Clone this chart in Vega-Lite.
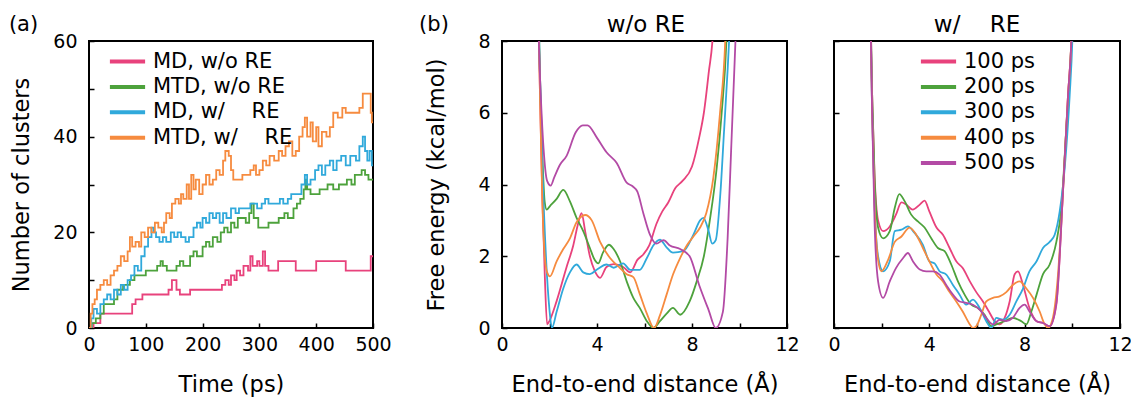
{
  "$schema": "https://vega.github.io/schema/vega-lite/v6.json",
  "background": "white",
  "padding": {"left": 7, "top": 12, "right": 0, "bottom": 0},
  "spacing": 25,
  "datasets": {
    "clusters": [
      {"t":0,"n":0,"s":"MD, w/o RE"},{"t":8,"n":1,"s":"MD, w/o RE"},{"t":20,"n":3,"s":"MD, w/o RE"},{"t":76,"n":5,"s":"MD, w/o RE"},{"t":82,"n":6,"s":"MD, w/o RE"},{"t":94,"n":7,"s":"MD, w/o RE"},{"t":140,"n":8,"s":"MD, w/o RE"},{"t":146,"n":10,"s":"MD, w/o RE"},{"t":154,"n":8,"s":"MD, w/o RE"},{"t":160,"n":7,"s":"MD, w/o RE"},{"t":178,"n":8,"s":"MD, w/o RE"},{"t":234,"n":9,"s":"MD, w/o RE"},{"t":240,"n":10,"s":"MD, w/o RE"},{"t":246,"n":9,"s":"MD, w/o RE"},{"t":250,"n":11,"s":"MD, w/o RE"},{"t":256,"n":10,"s":"MD, w/o RE"},{"t":260,"n":12,"s":"MD, w/o RE"},{"t":266,"n":11,"s":"MD, w/o RE"},{"t":272,"n":13,"s":"MD, w/o RE"},{"t":280,"n":12,"s":"MD, w/o RE"},{"t":284,"n":15,"s":"MD, w/o RE"},{"t":288,"n":13,"s":"MD, w/o RE"},{"t":296,"n":14,"s":"MD, w/o RE"},{"t":300,"n":13,"s":"MD, w/o RE"},{"t":306,"n":16,"s":"MD, w/o RE"},{"t":310,"n":13,"s":"MD, w/o RE"},{"t":316,"n":12,"s":"MD, w/o RE"},{"t":333,"n":14,"s":"MD, w/o RE"},{"t":364,"n":12,"s":"MD, w/o RE"},{"t":400,"n":14,"s":"MD, w/o RE"},{"t":452,"n":12,"s":"MD, w/o RE"},{"t":496,"n":15,"s":"MD, w/o RE"},{"t":500,"n":15,"s":"MD, w/o RE"},
      {"t":0,"n":0,"s":"MTD, w/o RE"},{"t":5,"n":1,"s":"MTD, w/o RE"},{"t":12,"n":2,"s":"MTD, w/o RE"},{"t":20,"n":3,"s":"MTD, w/o RE"},{"t":26,"n":5,"s":"MTD, w/o RE"},{"t":44,"n":6,"s":"MTD, w/o RE"},{"t":50,"n":8,"s":"MTD, w/o RE"},{"t":60,"n":9,"s":"MTD, w/o RE"},{"t":72,"n":10,"s":"MTD, w/o RE"},{"t":80,"n":11,"s":"MTD, w/o RE"},{"t":100,"n":12,"s":"MTD, w/o RE"},{"t":120,"n":13,"s":"MTD, w/o RE"},{"t":126,"n":14,"s":"MTD, w/o RE"},{"t":130,"n":13,"s":"MTD, w/o RE"},{"t":137,"n":12,"s":"MTD, w/o RE"},{"t":154,"n":13,"s":"MTD, w/o RE"},{"t":160,"n":14,"s":"MTD, w/o RE"},{"t":166,"n":13,"s":"MTD, w/o RE"},{"t":178,"n":15,"s":"MTD, w/o RE"},{"t":184,"n":16,"s":"MTD, w/o RE"},{"t":190,"n":15,"s":"MTD, w/o RE"},{"t":200,"n":17,"s":"MTD, w/o RE"},{"t":206,"n":18,"s":"MTD, w/o RE"},{"t":212,"n":17,"s":"MTD, w/o RE"},{"t":218,"n":19,"s":"MTD, w/o RE"},{"t":226,"n":18,"s":"MTD, w/o RE"},{"t":232,"n":20,"s":"MTD, w/o RE"},{"t":238,"n":21,"s":"MTD, w/o RE"},{"t":244,"n":20,"s":"MTD, w/o RE"},{"t":250,"n":22,"s":"MTD, w/o RE"},{"t":256,"n":21,"s":"MTD, w/o RE"},{"t":262,"n":23,"s":"MTD, w/o RE"},{"t":276,"n":22,"s":"MTD, w/o RE"},{"t":282,"n":24,"s":"MTD, w/o RE"},{"t":286,"n":26,"s":"MTD, w/o RE"},{"t":290,"n":23,"s":"MTD, w/o RE"},{"t":298,"n":21,"s":"MTD, w/o RE"},{"t":316,"n":22,"s":"MTD, w/o RE"},{"t":334,"n":23,"s":"MTD, w/o RE"},{"t":344,"n":24,"s":"MTD, w/o RE"},{"t":350,"n":23,"s":"MTD, w/o RE"},{"t":360,"n":25,"s":"MTD, w/o RE"},{"t":366,"n":26,"s":"MTD, w/o RE"},{"t":372,"n":27,"s":"MTD, w/o RE"},{"t":378,"n":29,"s":"MTD, w/o RE"},{"t":381,"n":31,"s":"MTD, w/o RE"},{"t":384,"n":29,"s":"MTD, w/o RE"},{"t":390,"n":28,"s":"MTD, w/o RE"},{"t":406,"n":29,"s":"MTD, w/o RE"},{"t":420,"n":30,"s":"MTD, w/o RE"},{"t":430,"n":29,"s":"MTD, w/o RE"},{"t":440,"n":30,"s":"MTD, w/o RE"},{"t":454,"n":31,"s":"MTD, w/o RE"},{"t":462,"n":30,"s":"MTD, w/o RE"},{"t":468,"n":32,"s":"MTD, w/o RE"},{"t":480,"n":33,"s":"MTD, w/o RE"},{"t":486,"n":32,"s":"MTD, w/o RE"},{"t":492,"n":31,"s":"MTD, w/o RE"},{"t":500,"n":31,"s":"MTD, w/o RE"},
      {"t":0,"n":0,"s":"MD, w/\u00a0\u00a0\u00a0\u00a0RE"},{"t":4,"n":2,"s":"MD, w/\u00a0\u00a0\u00a0\u00a0RE"},{"t":8,"n":4,"s":"MD, w/\u00a0\u00a0\u00a0\u00a0RE"},{"t":14,"n":3,"s":"MD, w/\u00a0\u00a0\u00a0\u00a0RE"},{"t":20,"n":5,"s":"MD, w/\u00a0\u00a0\u00a0\u00a0RE"},{"t":26,"n":6,"s":"MD, w/\u00a0\u00a0\u00a0\u00a0RE"},{"t":32,"n":7,"s":"MD, w/\u00a0\u00a0\u00a0\u00a0RE"},{"t":38,"n":6,"s":"MD, w/\u00a0\u00a0\u00a0\u00a0RE"},{"t":44,"n":8,"s":"MD, w/\u00a0\u00a0\u00a0\u00a0RE"},{"t":50,"n":7,"s":"MD, w/\u00a0\u00a0\u00a0\u00a0RE"},{"t":56,"n":9,"s":"MD, w/\u00a0\u00a0\u00a0\u00a0RE"},{"t":62,"n":8,"s":"MD, w/\u00a0\u00a0\u00a0\u00a0RE"},{"t":68,"n":10,"s":"MD, w/\u00a0\u00a0\u00a0\u00a0RE"},{"t":74,"n":11,"s":"MD, w/\u00a0\u00a0\u00a0\u00a0RE"},{"t":80,"n":13,"s":"MD, w/\u00a0\u00a0\u00a0\u00a0RE"},{"t":86,"n":12,"s":"MD, w/\u00a0\u00a0\u00a0\u00a0RE"},{"t":92,"n":15,"s":"MD, w/\u00a0\u00a0\u00a0\u00a0RE"},{"t":98,"n":17,"s":"MD, w/\u00a0\u00a0\u00a0\u00a0RE"},{"t":104,"n":19,"s":"MD, w/\u00a0\u00a0\u00a0\u00a0RE"},{"t":110,"n":21,"s":"MD, w/\u00a0\u00a0\u00a0\u00a0RE"},{"t":114,"n":20,"s":"MD, w/\u00a0\u00a0\u00a0\u00a0RE"},{"t":118,"n":19,"s":"MD, w/\u00a0\u00a0\u00a0\u00a0RE"},{"t":124,"n":18,"s":"MD, w/\u00a0\u00a0\u00a0\u00a0RE"},{"t":130,"n":19,"s":"MD, w/\u00a0\u00a0\u00a0\u00a0RE"},{"t":136,"n":18,"s":"MD, w/\u00a0\u00a0\u00a0\u00a0RE"},{"t":144,"n":20,"s":"MD, w/\u00a0\u00a0\u00a0\u00a0RE"},{"t":150,"n":19,"s":"MD, w/\u00a0\u00a0\u00a0\u00a0RE"},{"t":156,"n":20,"s":"MD, w/\u00a0\u00a0\u00a0\u00a0RE"},{"t":162,"n":19,"s":"MD, w/\u00a0\u00a0\u00a0\u00a0RE"},{"t":170,"n":18,"s":"MD, w/\u00a0\u00a0\u00a0\u00a0RE"},{"t":176,"n":19,"s":"MD, w/\u00a0\u00a0\u00a0\u00a0RE"},{"t":184,"n":21,"s":"MD, w/\u00a0\u00a0\u00a0\u00a0RE"},{"t":190,"n":22,"s":"MD, w/\u00a0\u00a0\u00a0\u00a0RE"},{"t":196,"n":21,"s":"MD, w/\u00a0\u00a0\u00a0\u00a0RE"},{"t":200,"n":23,"s":"MD, w/\u00a0\u00a0\u00a0\u00a0RE"},{"t":206,"n":22,"s":"MD, w/\u00a0\u00a0\u00a0\u00a0RE"},{"t":212,"n":24,"s":"MD, w/\u00a0\u00a0\u00a0\u00a0RE"},{"t":218,"n":23,"s":"MD, w/\u00a0\u00a0\u00a0\u00a0RE"},{"t":224,"n":24,"s":"MD, w/\u00a0\u00a0\u00a0\u00a0RE"},{"t":230,"n":22,"s":"MD, w/\u00a0\u00a0\u00a0\u00a0RE"},{"t":236,"n":24,"s":"MD, w/\u00a0\u00a0\u00a0\u00a0RE"},{"t":242,"n":23,"s":"MD, w/\u00a0\u00a0\u00a0\u00a0RE"},{"t":250,"n":25,"s":"MD, w/\u00a0\u00a0\u00a0\u00a0RE"},{"t":258,"n":24,"s":"MD, w/\u00a0\u00a0\u00a0\u00a0RE"},{"t":264,"n":25,"s":"MD, w/\u00a0\u00a0\u00a0\u00a0RE"},{"t":284,"n":26,"s":"MD, w/\u00a0\u00a0\u00a0\u00a0RE"},{"t":296,"n":25,"s":"MD, w/\u00a0\u00a0\u00a0\u00a0RE"},{"t":304,"n":26,"s":"MD, w/\u00a0\u00a0\u00a0\u00a0RE"},{"t":310,"n":27,"s":"MD, w/\u00a0\u00a0\u00a0\u00a0RE"},{"t":316,"n":26,"s":"MD, w/\u00a0\u00a0\u00a0\u00a0RE"},{"t":336,"n":27,"s":"MD, w/\u00a0\u00a0\u00a0\u00a0RE"},{"t":342,"n":26,"s":"MD, w/\u00a0\u00a0\u00a0\u00a0RE"},{"t":350,"n":27,"s":"MD, w/\u00a0\u00a0\u00a0\u00a0RE"},{"t":356,"n":28,"s":"MD, w/\u00a0\u00a0\u00a0\u00a0RE"},{"t":374,"n":30,"s":"MD, w/\u00a0\u00a0\u00a0\u00a0RE"},{"t":380,"n":32,"s":"MD, w/\u00a0\u00a0\u00a0\u00a0RE"},{"t":384,"n":30,"s":"MD, w/\u00a0\u00a0\u00a0\u00a0RE"},{"t":390,"n":31,"s":"MD, w/\u00a0\u00a0\u00a0\u00a0RE"},{"t":398,"n":33,"s":"MD, w/\u00a0\u00a0\u00a0\u00a0RE"},{"t":404,"n":34,"s":"MD, w/\u00a0\u00a0\u00a0\u00a0RE"},{"t":410,"n":32,"s":"MD, w/\u00a0\u00a0\u00a0\u00a0RE"},{"t":416,"n":34,"s":"MD, w/\u00a0\u00a0\u00a0\u00a0RE"},{"t":424,"n":35,"s":"MD, w/\u00a0\u00a0\u00a0\u00a0RE"},{"t":430,"n":33,"s":"MD, w/\u00a0\u00a0\u00a0\u00a0RE"},{"t":436,"n":35,"s":"MD, w/\u00a0\u00a0\u00a0\u00a0RE"},{"t":444,"n":36,"s":"MD, w/\u00a0\u00a0\u00a0\u00a0RE"},{"t":452,"n":34,"s":"MD, w/\u00a0\u00a0\u00a0\u00a0RE"},{"t":460,"n":36,"s":"MD, w/\u00a0\u00a0\u00a0\u00a0RE"},{"t":470,"n":35,"s":"MD, w/\u00a0\u00a0\u00a0\u00a0RE"},{"t":476,"n":38,"s":"MD, w/\u00a0\u00a0\u00a0\u00a0RE"},{"t":482,"n":40,"s":"MD, w/\u00a0\u00a0\u00a0\u00a0RE"},{"t":486,"n":37,"s":"MD, w/\u00a0\u00a0\u00a0\u00a0RE"},{"t":490,"n":35,"s":"MD, w/\u00a0\u00a0\u00a0\u00a0RE"},{"t":494,"n":37,"s":"MD, w/\u00a0\u00a0\u00a0\u00a0RE"},{"t":498,"n":34,"s":"MD, w/\u00a0\u00a0\u00a0\u00a0RE"},{"t":500,"n":34,"s":"MD, w/\u00a0\u00a0\u00a0\u00a0RE"},
      {"t":0,"n":0,"s":"MTD, w/\u00a0\u00a0\u00a0\u00a0RE"},{"t":3,"n":3,"s":"MTD, w/\u00a0\u00a0\u00a0\u00a0RE"},{"t":6,"n":5,"s":"MTD, w/\u00a0\u00a0\u00a0\u00a0RE"},{"t":10,"n":6,"s":"MTD, w/\u00a0\u00a0\u00a0\u00a0RE"},{"t":14,"n":8,"s":"MTD, w/\u00a0\u00a0\u00a0\u00a0RE"},{"t":20,"n":9,"s":"MTD, w/\u00a0\u00a0\u00a0\u00a0RE"},{"t":26,"n":10,"s":"MTD, w/\u00a0\u00a0\u00a0\u00a0RE"},{"t":32,"n":9,"s":"MTD, w/\u00a0\u00a0\u00a0\u00a0RE"},{"t":38,"n":11,"s":"MTD, w/\u00a0\u00a0\u00a0\u00a0RE"},{"t":44,"n":12,"s":"MTD, w/\u00a0\u00a0\u00a0\u00a0RE"},{"t":50,"n":13,"s":"MTD, w/\u00a0\u00a0\u00a0\u00a0RE"},{"t":56,"n":15,"s":"MTD, w/\u00a0\u00a0\u00a0\u00a0RE"},{"t":62,"n":14,"s":"MTD, w/\u00a0\u00a0\u00a0\u00a0RE"},{"t":68,"n":16,"s":"MTD, w/\u00a0\u00a0\u00a0\u00a0RE"},{"t":72,"n":19,"s":"MTD, w/\u00a0\u00a0\u00a0\u00a0RE"},{"t":76,"n":17,"s":"MTD, w/\u00a0\u00a0\u00a0\u00a0RE"},{"t":82,"n":18,"s":"MTD, w/\u00a0\u00a0\u00a0\u00a0RE"},{"t":88,"n":17,"s":"MTD, w/\u00a0\u00a0\u00a0\u00a0RE"},{"t":92,"n":20,"s":"MTD, w/\u00a0\u00a0\u00a0\u00a0RE"},{"t":98,"n":19,"s":"MTD, w/\u00a0\u00a0\u00a0\u00a0RE"},{"t":104,"n":21,"s":"MTD, w/\u00a0\u00a0\u00a0\u00a0RE"},{"t":110,"n":20,"s":"MTD, w/\u00a0\u00a0\u00a0\u00a0RE"},{"t":116,"n":22,"s":"MTD, w/\u00a0\u00a0\u00a0\u00a0RE"},{"t":122,"n":21,"s":"MTD, w/\u00a0\u00a0\u00a0\u00a0RE"},{"t":128,"n":20,"s":"MTD, w/\u00a0\u00a0\u00a0\u00a0RE"},{"t":132,"n":22,"s":"MTD, w/\u00a0\u00a0\u00a0\u00a0RE"},{"t":136,"n":24,"s":"MTD, w/\u00a0\u00a0\u00a0\u00a0RE"},{"t":142,"n":23,"s":"MTD, w/\u00a0\u00a0\u00a0\u00a0RE"},{"t":146,"n":26,"s":"MTD, w/\u00a0\u00a0\u00a0\u00a0RE"},{"t":152,"n":27,"s":"MTD, w/\u00a0\u00a0\u00a0\u00a0RE"},{"t":158,"n":26,"s":"MTD, w/\u00a0\u00a0\u00a0\u00a0RE"},{"t":162,"n":28,"s":"MTD, w/\u00a0\u00a0\u00a0\u00a0RE"},{"t":166,"n":27,"s":"MTD, w/\u00a0\u00a0\u00a0\u00a0RE"},{"t":172,"n":30,"s":"MTD, w/\u00a0\u00a0\u00a0\u00a0RE"},{"t":176,"n":27,"s":"MTD, w/\u00a0\u00a0\u00a0\u00a0RE"},{"t":180,"n":32,"s":"MTD, w/\u00a0\u00a0\u00a0\u00a0RE"},{"t":184,"n":29,"s":"MTD, w/\u00a0\u00a0\u00a0\u00a0RE"},{"t":188,"n":31,"s":"MTD, w/\u00a0\u00a0\u00a0\u00a0RE"},{"t":194,"n":28,"s":"MTD, w/\u00a0\u00a0\u00a0\u00a0RE"},{"t":200,"n":30,"s":"MTD, w/\u00a0\u00a0\u00a0\u00a0RE"},{"t":206,"n":32,"s":"MTD, w/\u00a0\u00a0\u00a0\u00a0RE"},{"t":212,"n":30,"s":"MTD, w/\u00a0\u00a0\u00a0\u00a0RE"},{"t":218,"n":31,"s":"MTD, w/\u00a0\u00a0\u00a0\u00a0RE"},{"t":224,"n":33,"s":"MTD, w/\u00a0\u00a0\u00a0\u00a0RE"},{"t":230,"n":32,"s":"MTD, w/\u00a0\u00a0\u00a0\u00a0RE"},{"t":236,"n":35,"s":"MTD, w/\u00a0\u00a0\u00a0\u00a0RE"},{"t":240,"n":37,"s":"MTD, w/\u00a0\u00a0\u00a0\u00a0RE"},{"t":246,"n":36,"s":"MTD, w/\u00a0\u00a0\u00a0\u00a0RE"},{"t":250,"n":33,"s":"MTD, w/\u00a0\u00a0\u00a0\u00a0RE"},{"t":254,"n":31,"s":"MTD, w/\u00a0\u00a0\u00a0\u00a0RE"},{"t":270,"n":32,"s":"MTD, w/\u00a0\u00a0\u00a0\u00a0RE"},{"t":284,"n":33,"s":"MTD, w/\u00a0\u00a0\u00a0\u00a0RE"},{"t":290,"n":34,"s":"MTD, w/\u00a0\u00a0\u00a0\u00a0RE"},{"t":294,"n":32,"s":"MTD, w/\u00a0\u00a0\u00a0\u00a0RE"},{"t":300,"n":33,"s":"MTD, w/\u00a0\u00a0\u00a0\u00a0RE"},{"t":306,"n":35,"s":"MTD, w/\u00a0\u00a0\u00a0\u00a0RE"},{"t":312,"n":34,"s":"MTD, w/\u00a0\u00a0\u00a0\u00a0RE"},{"t":318,"n":36,"s":"MTD, w/\u00a0\u00a0\u00a0\u00a0RE"},{"t":326,"n":35,"s":"MTD, w/\u00a0\u00a0\u00a0\u00a0RE"},{"t":334,"n":37,"s":"MTD, w/\u00a0\u00a0\u00a0\u00a0RE"},{"t":340,"n":36,"s":"MTD, w/\u00a0\u00a0\u00a0\u00a0RE"},{"t":346,"n":38,"s":"MTD, w/\u00a0\u00a0\u00a0\u00a0RE"},{"t":352,"n":39,"s":"MTD, w/\u00a0\u00a0\u00a0\u00a0RE"},{"t":358,"n":36,"s":"MTD, w/\u00a0\u00a0\u00a0\u00a0RE"},{"t":364,"n":37,"s":"MTD, w/\u00a0\u00a0\u00a0\u00a0RE"},{"t":370,"n":40,"s":"MTD, w/\u00a0\u00a0\u00a0\u00a0RE"},{"t":376,"n":42,"s":"MTD, w/\u00a0\u00a0\u00a0\u00a0RE"},{"t":380,"n":44,"s":"MTD, w/\u00a0\u00a0\u00a0\u00a0RE"},{"t":384,"n":40,"s":"MTD, w/\u00a0\u00a0\u00a0\u00a0RE"},{"t":390,"n":43,"s":"MTD, w/\u00a0\u00a0\u00a0\u00a0RE"},{"t":394,"n":39,"s":"MTD, w/\u00a0\u00a0\u00a0\u00a0RE"},{"t":400,"n":42,"s":"MTD, w/\u00a0\u00a0\u00a0\u00a0RE"},{"t":404,"n":38,"s":"MTD, w/\u00a0\u00a0\u00a0\u00a0RE"},{"t":410,"n":41,"s":"MTD, w/\u00a0\u00a0\u00a0\u00a0RE"},{"t":418,"n":40,"s":"MTD, w/\u00a0\u00a0\u00a0\u00a0RE"},{"t":424,"n":42,"s":"MTD, w/\u00a0\u00a0\u00a0\u00a0RE"},{"t":430,"n":45,"s":"MTD, w/\u00a0\u00a0\u00a0\u00a0RE"},{"t":438,"n":44,"s":"MTD, w/\u00a0\u00a0\u00a0\u00a0RE"},{"t":446,"n":46,"s":"MTD, w/\u00a0\u00a0\u00a0\u00a0RE"},{"t":452,"n":45,"s":"MTD, w/\u00a0\u00a0\u00a0\u00a0RE"},{"t":476,"n":46,"s":"MTD, w/\u00a0\u00a0\u00a0\u00a0RE"},{"t":482,"n":49,"s":"MTD, w/\u00a0\u00a0\u00a0\u00a0RE"},{"t":494,"n":49,"s":"MTD, w/\u00a0\u00a0\u00a0\u00a0RE"},{"t":496,"n":45,"s":"MTD, w/\u00a0\u00a0\u00a0\u00a0RE"},{"t":498,"n":43,"s":"MTD, w/\u00a0\u00a0\u00a0\u00a0RE"},{"t":500,"n":43,"s":"MTD, w/\u00a0\u00a0\u00a0\u00a0RE"}
    ],
    "fe_wo": [
      {"d":1.5,"g":10,"time":"100 ps"},{"d":1.6,"g":6.5,"time":"100 ps"},{"d":1.7,"g":3.6,"time":"100 ps"},{"d":1.8,"g":1.5,"time":"100 ps"},{"d":1.9,"g":0.1,"time":"100 ps"},{"d":2.0,"g":0.2,"time":"100 ps"},{"d":2.3,"g":0.75,"time":"100 ps"},{"d":2.72,"g":1.7,"time":"100 ps"},{"d":3.0,"g":2.3,"time":"100 ps"},{"d":3.2,"g":2.9,"time":"100 ps"},{"d":3.35,"g":3.2,"time":"100 ps"},{"d":3.5,"g":2.7,"time":"100 ps"},{"d":3.7,"g":2.0,"time":"100 ps"},{"d":3.9,"g":1.6,"time":"100 ps"},{"d":4.13,"g":1.4,"time":"100 ps"},{"d":4.4,"g":1.7,"time":"100 ps"},{"d":4.7,"g":1.78,"time":"100 ps"},{"d":5.1,"g":1.7,"time":"100 ps"},{"d":5.4,"g":1.55,"time":"100 ps"},{"d":5.7,"g":1.9,"time":"100 ps"},{"d":5.95,"g":2.05,"time":"100 ps"},{"d":6.2,"g":2.3,"time":"100 ps"},{"d":6.5,"g":2.9,"time":"100 ps"},{"d":6.75,"g":3.25,"time":"100 ps"},{"d":7.0,"g":3.5,"time":"100 ps"},{"d":7.3,"g":3.9,"time":"100 ps"},{"d":7.6,"g":4.1,"time":"100 ps"},{"d":8.0,"g":4.5,"time":"100 ps"},{"d":8.3,"g":5.3,"time":"100 ps"},{"d":8.5,"g":6.0,"time":"100 ps"},{"d":8.7,"g":7.1,"time":"100 ps"},{"d":8.9,"g":8.4,"time":"100 ps"},{"d":9.0,"g":10,"time":"100 ps"},
      {"d":1.5,"g":10,"time":"200 ps"},{"d":1.6,"g":7,"time":"200 ps"},{"d":1.7,"g":4.8,"time":"200 ps"},{"d":1.8,"g":3.5,"time":"200 ps"},{"d":1.88,"g":3.3,"time":"200 ps"},{"d":2.02,"g":3.4,"time":"200 ps"},{"d":2.3,"g":3.6,"time":"200 ps"},{"d":2.58,"g":3.85,"time":"200 ps"},{"d":2.86,"g":3.53,"time":"200 ps"},{"d":3.14,"g":3.07,"time":"200 ps"},{"d":3.42,"g":2.7,"time":"200 ps"},{"d":3.7,"g":2.23,"time":"200 ps"},{"d":3.9,"g":1.9,"time":"200 ps"},{"d":4.05,"g":1.8,"time":"200 ps"},{"d":4.25,"g":2.1,"time":"200 ps"},{"d":4.5,"g":2.32,"time":"200 ps"},{"d":4.7,"g":2.2,"time":"200 ps"},{"d":4.97,"g":1.86,"time":"200 ps"},{"d":5.25,"g":1.3,"time":"200 ps"},{"d":5.53,"g":0.84,"time":"200 ps"},{"d":5.8,"g":0.56,"time":"200 ps"},{"d":6.1,"g":0.19,"time":"200 ps"},{"d":6.37,"g":0.0,"time":"200 ps"},{"d":6.65,"g":0.19,"time":"200 ps"},{"d":6.93,"g":0.4,"time":"200 ps"},{"d":7.2,"g":0.56,"time":"200 ps"},{"d":7.5,"g":0.37,"time":"200 ps"},{"d":7.9,"g":0.74,"time":"200 ps"},{"d":8.2,"g":1.3,"time":"200 ps"},{"d":8.5,"g":2.0,"time":"200 ps"},{"d":8.75,"g":3.0,"time":"200 ps"},{"d":9.04,"g":4.46,"time":"200 ps"},{"d":9.25,"g":6.0,"time":"200 ps"},{"d":9.45,"g":8,"time":"200 ps"},{"d":9.55,"g":10,"time":"200 ps"},
      {"d":1.5,"g":10,"time":"300 ps"},{"d":1.6,"g":7,"time":"300 ps"},{"d":1.7,"g":4.5,"time":"300 ps"},{"d":1.85,"g":2.0,"time":"300 ps"},{"d":2.0,"g":0.5,"time":"300 ps"},{"d":2.1,"g":0.0,"time":"300 ps"},{"d":2.3,"g":0.45,"time":"300 ps"},{"d":2.58,"g":1.1,"time":"300 ps"},{"d":2.86,"g":1.55,"time":"300 ps"},{"d":3.14,"g":1.77,"time":"300 ps"},{"d":3.42,"g":1.55,"time":"300 ps"},{"d":3.7,"g":1.5,"time":"300 ps"},{"d":4.0,"g":1.63,"time":"300 ps"},{"d":4.4,"g":1.77,"time":"300 ps"},{"d":4.7,"g":1.68,"time":"300 ps"},{"d":5.1,"g":1.8,"time":"300 ps"},{"d":5.4,"g":1.62,"time":"300 ps"},{"d":5.8,"g":1.62,"time":"300 ps"},{"d":6.1,"g":1.95,"time":"300 ps"},{"d":6.37,"g":2.3,"time":"300 ps"},{"d":6.65,"g":2.46,"time":"300 ps"},{"d":6.93,"g":2.25,"time":"300 ps"},{"d":7.2,"g":2.1,"time":"300 ps"},{"d":7.63,"g":2.14,"time":"300 ps"},{"d":8.06,"g":2.6,"time":"300 ps"},{"d":8.34,"g":3.0,"time":"300 ps"},{"d":8.48,"g":3.07,"time":"300 ps"},{"d":8.7,"g":2.7,"time":"300 ps"},{"d":8.85,"g":2.35,"time":"300 ps"},{"d":9.0,"g":2.45,"time":"300 ps"},{"d":9.2,"g":3.8,"time":"300 ps"},{"d":9.35,"g":5.5,"time":"300 ps"},{"d":9.5,"g":7.2,"time":"300 ps"},{"d":9.6,"g":8.5,"time":"300 ps"},{"d":9.7,"g":10,"time":"300 ps"},
      {"d":1.5,"g":10,"time":"400 ps"},{"d":1.6,"g":6.5,"time":"400 ps"},{"d":1.7,"g":3.5,"time":"400 ps"},{"d":1.8,"g":2.0,"time":"400 ps"},{"d":1.9,"g":1.55,"time":"400 ps"},{"d":2.02,"g":1.44,"time":"400 ps"},{"d":2.3,"g":1.86,"time":"400 ps"},{"d":2.58,"g":2.2,"time":"400 ps"},{"d":2.86,"g":2.5,"time":"400 ps"},{"d":3.14,"g":2.95,"time":"400 ps"},{"d":3.5,"g":3.15,"time":"400 ps"},{"d":3.78,"g":3.0,"time":"400 ps"},{"d":4.13,"g":2.4,"time":"400 ps"},{"d":4.55,"g":1.95,"time":"400 ps"},{"d":4.97,"g":1.67,"time":"400 ps"},{"d":5.25,"g":1.5,"time":"400 ps"},{"d":5.53,"g":1.42,"time":"400 ps"},{"d":5.8,"g":0.95,"time":"400 ps"},{"d":6.1,"g":0.4,"time":"400 ps"},{"d":6.4,"g":0.0,"time":"400 ps"},{"d":6.65,"g":0.35,"time":"400 ps"},{"d":6.93,"g":0.93,"time":"400 ps"},{"d":7.2,"g":1.49,"time":"400 ps"},{"d":7.5,"g":1.95,"time":"400 ps"},{"d":7.78,"g":2.3,"time":"400 ps"},{"d":8.06,"g":2.55,"time":"400 ps"},{"d":8.34,"g":2.8,"time":"400 ps"},{"d":8.6,"g":3.2,"time":"400 ps"},{"d":8.9,"g":4.2,"time":"400 ps"},{"d":9.18,"g":6.0,"time":"400 ps"},{"d":9.4,"g":8,"time":"400 ps"},{"d":9.5,"g":10,"time":"400 ps"},
      {"d":1.45,"g":10,"time":"500 ps"},{"d":1.6,"g":7,"time":"500 ps"},{"d":1.75,"g":5,"time":"500 ps"},{"d":1.9,"g":4.1,"time":"500 ps"},{"d":2.05,"g":3.97,"time":"500 ps"},{"d":2.2,"g":4.2,"time":"500 ps"},{"d":2.44,"g":4.55,"time":"500 ps"},{"d":2.72,"g":4.8,"time":"500 ps"},{"d":3.1,"g":5.45,"time":"500 ps"},{"d":3.4,"g":5.65,"time":"500 ps"},{"d":3.6,"g":5.65,"time":"500 ps"},{"d":4.0,"g":5.3,"time":"500 ps"},{"d":4.4,"g":4.9,"time":"500 ps"},{"d":4.83,"g":4.6,"time":"500 ps"},{"d":5.25,"g":4.05,"time":"500 ps"},{"d":5.5,"g":3.95,"time":"500 ps"},{"d":5.7,"g":3.8,"time":"500 ps"},{"d":5.95,"g":3.2,"time":"500 ps"},{"d":6.23,"g":2.6,"time":"500 ps"},{"d":6.5,"g":2.35,"time":"500 ps"},{"d":6.8,"g":2.45,"time":"500 ps"},{"d":7.07,"g":2.3,"time":"500 ps"},{"d":7.5,"g":2.2,"time":"500 ps"},{"d":7.9,"g":2.0,"time":"500 ps"},{"d":8.3,"g":1.2,"time":"500 ps"},{"d":8.7,"g":0.5,"time":"500 ps"},{"d":9.0,"g":0.0,"time":"500 ps"},{"d":9.3,"g":0.45,"time":"500 ps"},{"d":9.5,"g":2.5,"time":"500 ps"},{"d":9.65,"g":5,"time":"500 ps"},{"d":9.8,"g":7.5,"time":"500 ps"},{"d":9.95,"g":10,"time":"500 ps"}
    ],
    "fe_w": [
      {"d":1.5,"g":10,"time":"100 ps"},{"d":1.6,"g":6.5,"time":"100 ps"},{"d":1.7,"g":4.3,"time":"100 ps"},{"d":1.85,"g":3.0,"time":"100 ps"},{"d":2.06,"g":2.7,"time":"100 ps"},{"d":2.34,"g":2.83,"time":"100 ps"},{"d":2.6,"g":3.16,"time":"100 ps"},{"d":2.83,"g":3.5,"time":"100 ps"},{"d":3.03,"g":3.44,"time":"100 ps"},{"d":3.3,"g":3.3,"time":"100 ps"},{"d":3.6,"g":3.44,"time":"100 ps"},{"d":3.8,"g":3.55,"time":"100 ps"},{"d":4.0,"g":3.25,"time":"100 ps"},{"d":4.3,"g":2.8,"time":"100 ps"},{"d":4.57,"g":2.6,"time":"100 ps"},{"d":4.85,"g":2.23,"time":"100 ps"},{"d":5.13,"g":1.86,"time":"100 ps"},{"d":5.4,"g":1.67,"time":"100 ps"},{"d":5.7,"g":1.3,"time":"100 ps"},{"d":5.97,"g":1.0,"time":"100 ps"},{"d":6.25,"g":0.74,"time":"100 ps"},{"d":6.5,"g":0.46,"time":"100 ps"},{"d":6.74,"g":0.19,"time":"100 ps"},{"d":6.95,"g":0.1,"time":"100 ps"},{"d":7.16,"g":0.28,"time":"100 ps"},{"d":7.37,"g":0.74,"time":"100 ps"},{"d":7.58,"g":1.5,"time":"100 ps"},{"d":7.72,"g":1.58,"time":"100 ps"},{"d":7.93,"g":1.2,"time":"100 ps"},{"d":8.2,"g":0.56,"time":"100 ps"},{"d":8.5,"g":0.19,"time":"100 ps"},{"d":8.77,"g":0.14,"time":"100 ps"},{"d":9.05,"g":0.05,"time":"100 ps"},{"d":9.33,"g":0.65,"time":"100 ps"},{"d":9.6,"g":3.7,"time":"100 ps"},{"d":9.82,"g":6.5,"time":"100 ps"},{"d":9.96,"g":8.0,"time":"100 ps"},{"d":10.05,"g":10,"time":"100 ps"},
      {"d":1.5,"g":10,"time":"200 ps"},{"d":1.6,"g":6.5,"time":"200 ps"},{"d":1.7,"g":4.2,"time":"200 ps"},{"d":1.85,"g":2.8,"time":"200 ps"},{"d":2.06,"g":2.5,"time":"200 ps"},{"d":2.34,"g":2.7,"time":"200 ps"},{"d":2.55,"g":3.35,"time":"200 ps"},{"d":2.74,"g":3.73,"time":"200 ps"},{"d":2.97,"g":3.53,"time":"200 ps"},{"d":3.24,"g":3.16,"time":"200 ps"},{"d":3.52,"g":2.97,"time":"200 ps"},{"d":3.8,"g":2.8,"time":"200 ps"},{"d":4.08,"g":2.5,"time":"200 ps"},{"d":4.36,"g":2.23,"time":"200 ps"},{"d":4.64,"g":2.14,"time":"200 ps"},{"d":4.92,"g":1.77,"time":"200 ps"},{"d":5.2,"g":1.3,"time":"200 ps"},{"d":5.48,"g":0.93,"time":"200 ps"},{"d":5.76,"g":0.65,"time":"200 ps"},{"d":6.04,"g":0.56,"time":"200 ps"},{"d":6.32,"g":0.37,"time":"200 ps"},{"d":6.6,"g":0.05,"time":"200 ps"},{"d":6.81,"g":0.1,"time":"200 ps"},{"d":7.16,"g":0.19,"time":"200 ps"},{"d":7.5,"g":0.28,"time":"200 ps"},{"d":7.86,"g":0.19,"time":"200 ps"},{"d":8.07,"g":0.1,"time":"200 ps"},{"d":8.28,"g":0.46,"time":"200 ps"},{"d":8.5,"g":0.93,"time":"200 ps"},{"d":8.77,"g":1.5,"time":"200 ps"},{"d":9.05,"g":1.77,"time":"200 ps"},{"d":9.33,"g":2.4,"time":"200 ps"},{"d":9.54,"g":3.35,"time":"200 ps"},{"d":9.75,"g":5.6,"time":"200 ps"},{"d":9.96,"g":8,"time":"200 ps"},{"d":10.05,"g":10,"time":"200 ps"},
      {"d":1.5,"g":10,"time":"300 ps"},{"d":1.6,"g":6,"time":"300 ps"},{"d":1.7,"g":3.5,"time":"300 ps"},{"d":1.85,"g":2.0,"time":"300 ps"},{"d":2.06,"g":1.58,"time":"300 ps"},{"d":2.34,"g":1.86,"time":"300 ps"},{"d":2.55,"g":2.7,"time":"300 ps"},{"d":2.83,"g":2.74,"time":"300 ps"},{"d":3.1,"g":2.83,"time":"300 ps"},{"d":3.38,"g":2.65,"time":"300 ps"},{"d":3.73,"g":2.32,"time":"300 ps"},{"d":4.0,"g":1.86,"time":"300 ps"},{"d":4.22,"g":1.8,"time":"300 ps"},{"d":4.43,"g":1.58,"time":"300 ps"},{"d":4.71,"g":1.49,"time":"300 ps"},{"d":4.99,"g":1.2,"time":"300 ps"},{"d":5.27,"g":0.93,"time":"300 ps"},{"d":5.55,"g":0.65,"time":"300 ps"},{"d":5.83,"g":0.79,"time":"300 ps"},{"d":6.11,"g":0.56,"time":"300 ps"},{"d":6.39,"g":0.19,"time":"300 ps"},{"d":6.6,"g":0.0,"time":"300 ps"},{"d":6.81,"g":0.28,"time":"300 ps"},{"d":7.09,"g":0.23,"time":"300 ps"},{"d":7.37,"g":0.37,"time":"300 ps"},{"d":7.65,"g":0.74,"time":"300 ps"},{"d":7.93,"g":1.1,"time":"300 ps"},{"d":8.2,"g":1.58,"time":"300 ps"},{"d":8.5,"g":1.86,"time":"300 ps"},{"d":8.77,"g":2.23,"time":"300 ps"},{"d":9.05,"g":2.4,"time":"300 ps"},{"d":9.26,"g":2.6,"time":"300 ps"},{"d":9.47,"g":3.25,"time":"300 ps"},{"d":9.68,"g":4.46,"time":"300 ps"},{"d":9.89,"g":6.5,"time":"300 ps"},{"d":10.0,"g":8,"time":"300 ps"},{"d":10.08,"g":10,"time":"300 ps"},
      {"d":1.5,"g":10,"time":"400 ps"},{"d":1.6,"g":6,"time":"400 ps"},{"d":1.7,"g":3.5,"time":"400 ps"},{"d":1.85,"g":1.9,"time":"400 ps"},{"d":1.99,"g":1.58,"time":"400 ps"},{"d":2.27,"g":1.9,"time":"400 ps"},{"d":2.55,"g":2.4,"time":"400 ps"},{"d":2.83,"g":2.55,"time":"400 ps"},{"d":3.17,"g":2.8,"time":"400 ps"},{"d":3.45,"g":2.6,"time":"400 ps"},{"d":3.73,"g":2.23,"time":"400 ps"},{"d":4.0,"g":1.86,"time":"400 ps"},{"d":4.3,"g":1.49,"time":"400 ps"},{"d":4.57,"g":1.3,"time":"400 ps"},{"d":4.85,"g":1.0,"time":"400 ps"},{"d":5.13,"g":0.74,"time":"400 ps"},{"d":5.4,"g":0.46,"time":"400 ps"},{"d":5.7,"g":0.1,"time":"400 ps"},{"d":5.83,"g":0.0,"time":"400 ps"},{"d":5.97,"g":0.05,"time":"400 ps"},{"d":6.18,"g":0.37,"time":"400 ps"},{"d":6.39,"g":0.74,"time":"400 ps"},{"d":6.67,"g":0.84,"time":"400 ps"},{"d":6.95,"g":0.88,"time":"400 ps"},{"d":7.23,"g":1.0,"time":"400 ps"},{"d":7.5,"g":1.2,"time":"400 ps"},{"d":7.79,"g":1.3,"time":"400 ps"},{"d":8.07,"g":1.1,"time":"400 ps"},{"d":8.35,"g":0.84,"time":"400 ps"},{"d":8.63,"g":0.46,"time":"400 ps"},{"d":8.84,"g":0.1,"time":"400 ps"},{"d":8.98,"g":0.0,"time":"400 ps"},{"d":9.19,"g":0.3,"time":"400 ps"},{"d":9.4,"g":1.5,"time":"400 ps"},{"d":9.6,"g":3.7,"time":"400 ps"},{"d":9.82,"g":6.5,"time":"400 ps"},{"d":9.96,"g":8,"time":"400 ps"},{"d":10.05,"g":10,"time":"400 ps"},
      {"d":1.5,"g":10,"time":"500 ps"},{"d":1.6,"g":6,"time":"500 ps"},{"d":1.7,"g":3,"time":"500 ps"},{"d":1.85,"g":1.3,"time":"500 ps"},{"d":2.06,"g":0.84,"time":"500 ps"},{"d":2.34,"g":1.3,"time":"500 ps"},{"d":2.6,"g":1.67,"time":"500 ps"},{"d":2.9,"g":1.95,"time":"500 ps"},{"d":3.1,"g":2.09,"time":"500 ps"},{"d":3.31,"g":1.86,"time":"500 ps"},{"d":3.6,"g":1.63,"time":"500 ps"},{"d":3.87,"g":1.58,"time":"500 ps"},{"d":4.15,"g":1.58,"time":"500 ps"},{"d":4.43,"g":1.49,"time":"500 ps"},{"d":4.71,"g":1.2,"time":"500 ps"},{"d":4.99,"g":0.93,"time":"500 ps"},{"d":5.27,"g":0.74,"time":"500 ps"},{"d":5.55,"g":0.7,"time":"500 ps"},{"d":5.83,"g":0.65,"time":"500 ps"},{"d":6.11,"g":0.51,"time":"500 ps"},{"d":6.39,"g":0.28,"time":"500 ps"},{"d":6.67,"g":0.1,"time":"500 ps"},{"d":6.95,"g":0.23,"time":"500 ps"},{"d":7.23,"g":0.19,"time":"500 ps"},{"d":7.5,"g":0.28,"time":"500 ps"},{"d":7.79,"g":0.56,"time":"500 ps"},{"d":8.0,"g":0.65,"time":"500 ps"},{"d":8.2,"g":0.46,"time":"500 ps"},{"d":8.5,"g":0.19,"time":"500 ps"},{"d":8.77,"g":0.14,"time":"500 ps"},{"d":9.05,"g":0.05,"time":"500 ps"},{"d":9.33,"g":0.7,"time":"500 ps"},{"d":9.6,"g":3.7,"time":"500 ps"},{"d":9.82,"g":6.5,"time":"500 ps"},{"d":9.96,"g":8,"time":"500 ps"},{"d":10.05,"g":10,"time":"500 ps"}
    ],
    "lab_a": [{"label": "(a)"}],
    "lab_b": [{"label": "(b)"}],
    "ttl_wo": [{"label": "w/o RE"}],
    "ttl_w": [{"label": "w/\u00a0\u00a0\u00a0\u00a0RE"}]
  },
  "hconcat": [
    {
      "width": 284,
      "height": 287,
      "layer": [
        {
          "data": {"name": "clusters"},
          "mark": {"type": "line", "interpolate": "step-after", "strokeWidth": 1.8, "clip": true},
          "encoding": {
            "x": {"field": "t", "type": "quantitative", "scale": {"domain": [0, 500], "nice": false},
                  "axis": {"title": "Time (ps)", "values": [0,50,100,150,200,250,300,350,400,450,500], "labelExpr": "datum.value % 100 === 0 ? datum.label : ''", "labelPadding": 12, "titlePadding": 19}},
            "y": {"field": "n", "type": "quantitative", "scale": {"domain": [0, 60], "nice": false},
                  "axis": {"title": "Number of clusters", "values": [0,10,20,30,40,50,60], "labelExpr": "datum.value % 20 === 0 ? datum.label : ''", "labelPadding": 17, "titlePadding": 19}},
            "color": {"field": "s", "type": "nominal",
                      "scale": {"domain": ["MD, w/o RE", "MTD, w/o RE", "MD, w/\u00a0\u00a0\u00a0\u00a0RE", "MTD, w/\u00a0\u00a0\u00a0\u00a0RE"], "range": ["#e8427c", "#4da23c", "#30a9db", "#f68b3f"]},
                      "legend": {"orient": "none", "legendX": 28, "legendY": 10, "title": null}}
          }
        },
        {
          "data": {"name": "lab_a"},
          "mark": {"type": "text", "align": "left", "baseline": "alphabetic", "fontSize": 21, "color": "black"},
          "encoding": {
            "x": {"datum": -141, "type": "quantitative", "scale": {"domain": [0, 500], "nice": false}},
            "y": {"datum": 62.1, "type": "quantitative", "scale": {"domain": [0, 60], "nice": false}},
            "text": {"field": "label"}
          }
        }
      ]
    },
    {
      "width": 285,
      "height": 287,
      "layer": [
        {
          "data": {"name": "fe_wo"},
          "mark": {"type": "line", "interpolate": "monotone", "strokeWidth": 1.8, "clip": true},
          "encoding": {
            "x": {"field": "d", "type": "quantitative", "scale": {"domain": [0, 12], "nice": false},
                  "axis": {"title": "End-to-end distance (Å)", "values": [0,1,2,3,4,5,6,7,8,9,10,11,12], "labelExpr": "datum.value % 4 === 0 ? datum.label : ''", "labelPadding": 12, "titlePadding": 19}},
            "y": {"field": "g", "type": "quantitative", "scale": {"domain": [0, 8], "nice": false},
                  "axis": {"title": "Free energy (kcal/mol)", "values": [0,1,2,3,4,5,6,7,8], "labelExpr": "datum.value % 2 === 0 ? datum.label : ''", "labelPadding": 17, "titlePadding": 29}},
            "color": {"field": "time", "type": "nominal",
                      "scale": {"domain": ["100 ps", "200 ps", "300 ps", "400 ps", "500 ps"], "range": ["#e8427c", "#4da23c", "#30a9db", "#f68b3f", "#b34aa5"]},
                      "legend": null}
          }
        },
        {
          "data": {"name": "lab_b"},
          "mark": {"type": "text", "align": "left", "baseline": "alphabetic", "fontSize": 21, "color": "black"},
          "encoding": {
            "x": {"datum": -3.49, "type": "quantitative", "scale": {"domain": [0, 12], "nice": false}},
            "y": {"datum": 8.28, "type": "quantitative", "scale": {"domain": [0, 8], "nice": false}},
            "text": {"field": "label"}
          }
        },
        {
          "data": {"name": "ttl_wo"},
          "mark": {"type": "text", "align": "center", "baseline": "alphabetic", "fontSize": 23, "color": "black"},
          "encoding": {
            "x": {"datum": 6.06, "type": "quantitative", "scale": {"domain": [0, 12], "nice": false}},
            "y": {"datum": 8.25, "type": "quantitative", "scale": {"domain": [0, 8], "nice": false}},
            "text": {"field": "label"}
          }
        }
      ]
    },
    {
      "width": 286,
      "height": 287,
      "layer": [
        {
          "data": {"name": "fe_w"},
          "mark": {"type": "line", "interpolate": "monotone", "strokeWidth": 1.8, "clip": true},
          "encoding": {
            "x": {"field": "d", "type": "quantitative", "scale": {"domain": [0, 12], "nice": false},
                  "axis": {"title": "End-to-end distance (Å)", "values": [0,1,2,3,4,5,6,7,8,9,10,11,12], "labelExpr": "datum.value % 4 === 0 ? datum.label : ''", "labelPadding": 12, "titlePadding": 19}},
            "y": {"field": "g", "type": "quantitative", "scale": {"domain": [0, 8], "nice": false},
                  "axis": {"title": null, "values": [0,1,2,3,4,5,6,7,8], "labels": false}},
            "color": {"field": "time", "type": "nominal",
                      "scale": {"domain": ["100 ps", "200 ps", "300 ps", "400 ps", "500 ps"], "range": ["#e8427c", "#4da23c", "#30a9db", "#f68b3f", "#b34aa5"]},
                      "legend": {"orient": "none", "legendX": 94, "legendY": 10, "title": null}}
          }
        },
        {
          "data": {"name": "ttl_w"},
          "mark": {"type": "text", "align": "center", "baseline": "alphabetic", "fontSize": 23, "color": "black"},
          "encoding": {
            "x": {"datum": 6.0, "type": "quantitative", "scale": {"domain": [0, 12], "nice": false}},
            "y": {"datum": 8.25, "type": "quantitative", "scale": {"domain": [0, 8], "nice": false}},
            "text": {"field": "label"}
          }
        }
      ]
    }
  ],
  "resolve": {"scale": {"x": "independent", "y": "independent", "color": "independent"}, "legend": {"color": "independent"}},
  "config": {
    "font": "DejaVu Sans",
    "view": {"stroke": "black", "strokeWidth": 2},
    "axis": {"domain": false, "grid": false, "tickColor": "black", "tickWidth": 1.5, "tickSize": -5, "labelFontSize": 19, "labelColor": "black", "titleFontSize": 22.5, "titleFontWeight": "normal", "titleColor": "black", "labelFlush": false, "labelOverlap": false},
    "legend": {"symbolType": "M-2.2,0H2.2", "symbolStrokeWidth": 4, "symbolSize": 256, "labelFontSize": 21, "labelColor": "black", "labelOffset": 15, "rowPadding": 3.4, "padding": 0, "labelLimit": 300}
  }
}
